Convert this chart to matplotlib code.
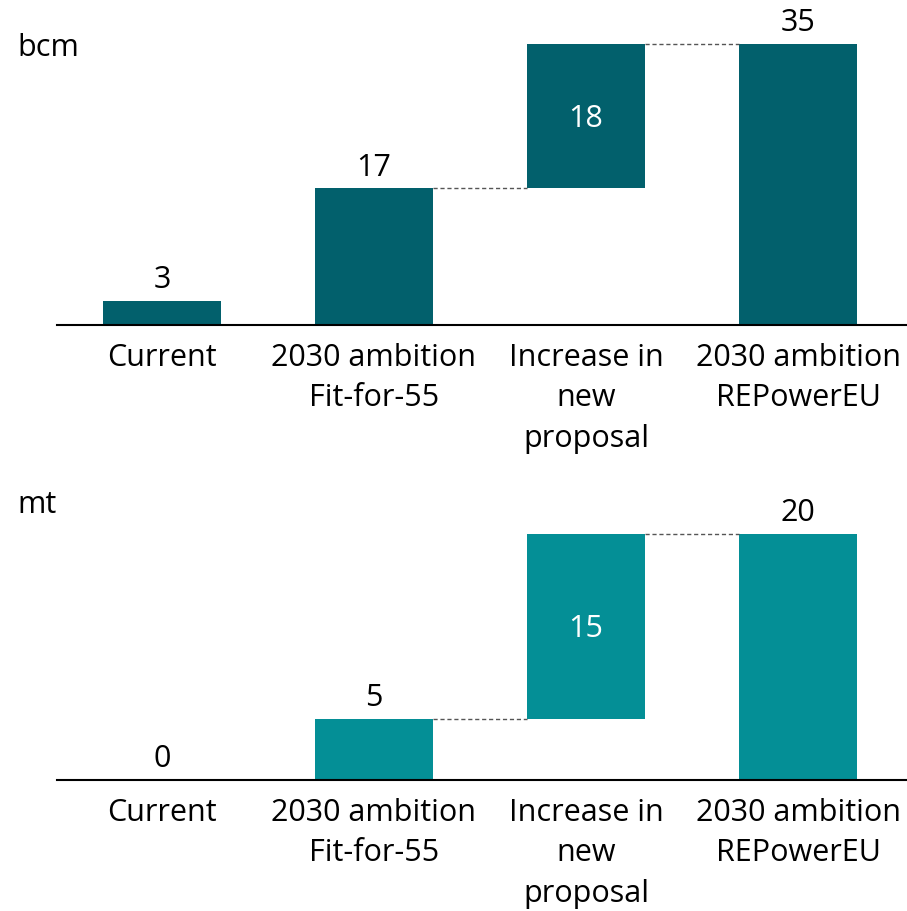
import numpy as np
import matplotlib.pyplot as plt

plt.rcParams['font.family'] = ['Open Sans', 'DejaVu Sans']

categories = ['Current', '2030 ambition\nFit-for-55', 'Increase in\nnew\nproposal',
              '2030 ambition\nREPowerEU']

gas_current = 3
gas_fit55 = 17
gas_increase = 18
gas_repower = 35

h2_current = 0
h2_fit55 = 5
h2_increase = 15
h2_repower = 20

dark_teal = '#02606c'
light_teal = '#048f96'
bar_w = 0.557
fs = 22


def waterfall(ax, current, fit55, increase, total, color, ymax):
    x = np.arange(len(categories))
    bottoms = [0, 0, fit55, 0]
    heights = [current, fit55, increase, total]
    ax.bar(x, heights, bottom=bottoms, width=bar_w, color=color, zorder=2)

    # connectors between the steps
    ax.plot([x[1] + bar_w / 2, x[2] - bar_w / 2], [fit55, fit55],
            ls=(0, (3, 2)), color='#555555', lw=1)
    ax.plot([x[2] + bar_w / 2, x[3] - bar_w / 2], [fit55 + increase] * 2,
            ls=(0, (3, 2)), color='#555555', lw=1)

    for i in (0, 1, 3):
        ax.annotate(f'{heights[i]}', (x[i], bottoms[i] + heights[i]),
                    xytext=(0, 4), textcoords='offset points',
                    ha='center', va='bottom', fontsize=fs)
    ax.annotate(f'{increase}', (x[2], fit55 + increase / 2),
                xytext=(0, -2), textcoords='offset points', color='white',
                ha='center', va='center', fontsize=fs)

    ax.set_xlim(-0.495, 3.514)
    ax.set_ylim(0, ymax)
    ax.set_xticks(x)
    ax.set_xticklabels(categories, fontsize=fs, linespacing=1.45)
    ax.tick_params(axis='x', length=0, pad=13)
    ax.set_yticks([])
    for s in ('top', 'right', 'left'):
        ax.spines[s].set_visible(False)
    ax.spines['bottom'].set_linewidth(1.5)
    ax.spines['bottom'].set_zorder(3)


fig = plt.figure(figsize=(9.07, 9.11), dpi=100)
W, H = 907, 911

ax1 = fig.add_axes([57 / W, (H - 325) / H, 850 / W, 305 / H])
waterfall(ax1, gas_current, gas_fit55, gas_increase, gas_repower,
          dark_teal, 305 / 8.03)
fig.text(17 / W, (H - 48) / H, 'bcm', fontsize=fs, va='center', ha='left')

ax2 = fig.add_axes([57 / W, (H - 780) / H, 850 / W, 270 / H])
waterfall(ax2, h2_current, h2_fit55, h2_increase, h2_repower,
          light_teal, 270 / 12.3)
fig.text(17 / W, (H - 505) / H, 'mt', fontsize=fs, va='center', ha='left')

fig.savefig('out.png', dpi=100)
